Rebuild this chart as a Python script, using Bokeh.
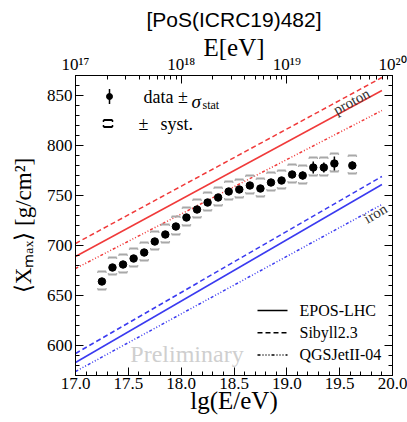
import numpy as np
from bokeh.plotting import figure
from bokeh.models import (LinearAxis, Range1d, SingleIntervalTicker, FixedTicker,
                          PrintfTickFormatter, CustomJSTickFormatter, Label)
from bokeh.embed import file_html
from bokeh.resources import INLINE

# ---------------- data ----------------
lg_e = [17.25, 17.35, 17.45, 17.55, 17.65, 17.75, 17.85, 17.95, 18.05, 18.15,
        18.25, 18.35, 18.45, 18.55, 18.65, 18.75, 18.85, 18.95, 19.05, 19.15,
        19.25, 19.35, 19.45, 19.62]
xmax_mean = [664, 678, 681, 687, 693, 704, 711, 719, 728, 736,
             743, 748, 754, 756, 760, 757, 763, 765, 771, 770,
             778, 778, 782, 780]
stat_err = [2, 2, 2, 2, 2, 2, 2, 2, 2, 2,
            2, 2, 2, 2, 2, 2, 2, 3, 3, 4,
            6, 5, 7, 4]
sys_up = [10, 10, 10, 10, 10, 10, 10, 10, 10, 10,
          10, 10, 10, 10, 10, 10, 10, 10, 10, 10,
          10, 10, 10, 10]
sys_down = [8, 7, 8, 8, 8, 8, 8, 8, 8, 8,
            8, 8, 8, 8, 8, 8, 8, 8, 8, 8,
            8, 8, 8, 8]

model_lg_e = [17.0, 19.9]
proton_epos = [689, 855]
proton_sibyll = [702, 868]
proton_qgsjet = [677, 835]
iron_epos = [583, 761]
iron_sibyll = [592, 769]
iron_qgsjet = [574, 741]

model_names = ["EPOS-LHC", "Sibyll2.3", "QGSJetII-04"]
top_decades = [17, 18, 19, 20]
top_tick_labels = ["10\u00b9\u2077", "10\u00b9\u2078", "10\u00b9\u2079", "10\u00b2\u2070"]

# ---------------- layout ----------------
X0, X1 = 17.0, 20.0
Y0, Y1 = 570, 870
W, H = 407, 422
BL, BR, BT, BB = 75, 15, 75, 47
FW = W - BL - BR
FH = H - BT - BB


def dx(px):
    return X0 + (px - BL) * (X1 - X0) / FW


def dy(py):
    return Y1 - (py - BT) * (Y1 - Y0) / FH


RED = "#f03a3a"
BLUE = "#3a3af0"
SERIF = "Liberation Serif"
DASH = "5 3"
DASHDOT = "3 2 1 2 1 2 1 2"

p = figure(width=W, height=H, x_range=Range1d(X0, X1), y_range=Range1d(Y0, Y1),
           output_backend="svg", toolbar_location=None,
           min_border_left=BL, min_border_right=BR, min_border_top=BT, min_border_bottom=BB)
p.xgrid.visible = False
p.ygrid.visible = False
p.outline_line_color = "black"
p.background_fill_color = "white"
p.border_fill_color = "white"

p.title.text = "[PoS(ICRC19)482]"
p.title.text_font = "Liberation Sans"
p.title.text_font_size = "21px"
p.title.text_font_style = "normal"
p.title.text_color = "black"
p.title.align = "center"
p.title.offset = 4
p.title.standoff = 0


def style_axis(ax, labels=True):
    ax.axis_line_color = "black"
    ax.major_tick_line_color = "black"
    ax.minor_tick_line_color = "black"
    ax.major_tick_in = 8
    ax.major_tick_out = 0
    ax.minor_tick_in = 4
    ax.minor_tick_out = 0
    ax.major_label_text_font = SERIF
    ax.major_label_text_font_size = "17px"
    ax.major_label_text_color = "black"
    ax.axis_label_text_font = SERIF
    ax.axis_label_text_font_style = "normal"
    ax.axis_label_text_color = "black"
    if not labels:
        ax.formatter = CustomJSTickFormatter(code="return ''")


# bottom
p.xaxis.ticker = SingleIntervalTicker(interval=0.5, num_minor_ticks=5)
p.xaxis.formatter = PrintfTickFormatter(format="%.1f")
style_axis(p.xaxis[0])
p.xaxis.major_label_standoff = 2
p.xaxis.axis_label = "lg(E/eV)"
p.xaxis.axis_label_text_font_size = "25px"
p.xaxis.axis_label_standoff = -5
# left
p.yaxis.ticker = SingleIntervalTicker(interval=50, num_minor_ticks=5)
style_axis(p.yaxis[0])
p.yaxis.major_label_standoff = 3
p.yaxis.axis_label = "\u27e8X\u2098\u2090\u2093\u27e9 [g/cm\u00b2]"
p.yaxis.axis_label_text_font_size = "23px"
p.yaxis.axis_label_standoff = 8
# right
ax_r = LinearAxis(ticker=SingleIntervalTicker(interval=50, num_minor_ticks=5))
style_axis(ax_r, labels=False)
p.add_layout(ax_r, "right")
# top (log energy)
minor_top = [float(np.log10(k)) + d for d in top_decades[:-1] for k in range(2, 10)]
ax_t = LinearAxis(ticker=FixedTicker(ticks=top_decades, minor_ticks=minor_top))
style_axis(ax_t)
ax_t.major_label_overrides = {d: t for d, t in zip(top_decades, top_tick_labels)}
ax_t.major_label_standoff = 2
ax_t.axis_label = "E[eV]"
ax_t.axis_label_text_font_size = "25px"
ax_t.axis_label_standoff = -9
p.add_layout(ax_t, "above")

# ---------------- model lines ----------------
for ys, dash in [(proton_epos, "solid"), (proton_sibyll, DASH), (proton_qgsjet, DASHDOT)]:
    p.line(model_lg_e, ys, line_color=RED, line_width=1.5, line_dash=dash)
for ys, dash in [(iron_epos, "solid"), (iron_sibyll, DASH), (iron_qgsjet, DASHDOT)]:
    p.line(model_lg_e, ys, line_color=BLUE, line_width=1.5, line_dash=dash)

# ---------------- data ----------------
x = np.array(lg_e)
y = np.array(xmax_mean)
su = np.array(sys_up)
sd = np.array(sys_down)
st = np.array(stat_err)
hw = 0.04
hook = 1.5
GREY = "#a8a8a8"
p.segment(x - hw, y + su, x + hw, y + su, line_color=GREY, line_width=2)
p.segment(x - hw, y - sd, x + hw, y - sd, line_color=GREY, line_width=2)
for xs in (x - hw, x + hw):
    p.segment(xs, y + su, xs, y + su - hook, line_color=GREY, line_width=1)
    p.segment(xs, y - sd, xs, y - sd + hook, line_color=GREY, line_width=1)
p.segment(x, y - st, x, y + st, line_color="black", line_width=1.5)
p.scatter(x, y, size=7.5, color="black")

# ---------------- legends ----------------
# data legend
lx = dx(109)
p.segment([lx], [dy(103.5)], [lx], [dy(88.5)], line_color="black", line_width=1.5)
p.scatter([lx], [dy(96)], size=6, color="black")
p.add_layout(Label(x=dx(143), y=dy(96), text="data \u00b1", text_font=SERIF,
                   text_font_size="18px", text_baseline="middle", text_color="black"))
p.add_layout(Label(x=dx(191), y=dy(101), text="\u03c3", text_font=SERIF, text_font_style="italic",
                   text_font_size="19px", text_baseline="alphabetic", text_color="black"))
p.add_layout(Label(x=dx(202), y=dy(104), text="stat", text_font=SERIF,
                   text_font_size="12px", text_baseline="alphabetic", text_color="black"))
# syst legend
sx0, sx1 = dx(103), dx(112)
p.segment([sx0, sx0], [dy(119.5), dy(126.5)], [sx1, sx1], [dy(119.5), dy(126.5)],
          line_color="black", line_width=2)
p.segment([sx0, sx1, sx0, sx1], [dy(119.5)] * 2 + [dy(126.5)] * 2,
          [sx0, sx1, sx0, sx1], [dy(121.5)] * 2 + [dy(124.5)] * 2,
          line_color="black", line_width=1.5)
p.add_layout(Label(x=dx(138), y=dy(123), text="\u00b1", text_font=SERIF,
                   text_font_size="18px", text_baseline="middle", text_color="black"))
p.add_layout(Label(x=dx(160), y=dy(123), text="syst.", text_font=SERIF,
                   text_font_size="18px", text_baseline="middle", text_color="black"))

# model legend
for i, (name, dash) in enumerate(zip(model_names, ["solid", DASH, DASHDOT])):
    ry = dy(310 + i * 22.2)
    p.line([dx(257), dx(287)], [ry, ry], line_color="black", line_width=1.5, line_dash=dash)
    p.add_layout(Label(x=dx(299), y=ry, text=name, text_font=SERIF, text_font_size="16px",
                       text_baseline="middle", text_color="black"))

# Preliminary
p.add_layout(Label(x=dx(186.5), y=dy(353), text="Preliminary", text_font=SERIF,
                   text_font_size="24px", text_align="center", text_baseline="middle",
                   text_color="#cfcfcf"))


# proton / iron labels along lines
def px_angle(ys):
    sy = (ys[1] - ys[0]) / (Y1 - Y0) * FH
    sx = (model_lg_e[1] - model_lg_e[0]) / (X1 - X0) * FW
    return float(np.arctan2(sy, sx))


p.add_layout(Label(x=dx(351), y=dy(101), text="proton", text_font=SERIF, text_font_size="15px",
                   text_align="center", text_baseline="middle", angle=px_angle(proton_epos),
                   text_color="#333333"))
p.add_layout(Label(x=dx(375), y=dy(213), text="iron", text_font=SERIF, text_font_size="15px",
                   text_align="center", text_baseline="middle", angle=px_angle(iron_epos),
                   text_color="#333333"))

open("out.html", "w").write(file_html(p, INLINE))
